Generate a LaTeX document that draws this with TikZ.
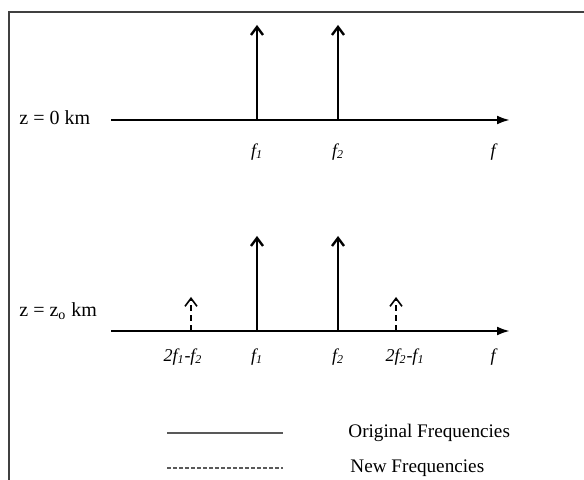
\documentclass[tikz,border=0pt]{standalone}
\usepackage{fontspec}
\setmainfont{Liberation Serif}
\usetikzlibrary{arrows.meta}
\tikzset{
  frame/.style={line width=1.3pt,black!75},
  % Assi di frequenza
  axis/.style={line width=1.2pt,-{Latex[length=6.5pt,width=4.5pt]}},
  % Righe spettrali
  line orig/.style={line width=1.2pt,-{Straight Barb[length=4pt,width=6pt]}},
  line new/.style={line width=0.8pt,densely dashed,-{Straight Barb[length=4pt,width=6pt]}},
  lbl/.style={font=\fontsize{10}{12}\selectfont,inner sep=1pt},
  leglbl/.style={font=\fontsize{9.6}{12}\selectfont,inner sep=1pt},
  flbl/.style={font=\fontsize{9}{11}\selectfont\itshape,inner sep=1pt},
  leg orig/.style={line width=1.1pt,black!65},
  leg new/.style={line width=1.1pt,black!65,dash pattern=on 2pt off 1pt}
}
\begin{document}
\begin{tikzpicture}[x=0.5pt,y=-0.5pt]
  \useasboundingbox (0,0) rectangle (584,480);
  \draw[frame] (9,480) -- (9,12) -- (584,12);
  % z = 0
  \coordinate (s0) at (111,120);
  \coordinate (e0) at (510,120);
  \draw[axis] (s0) -- (e0);
  \node[lbl,anchor=west] (z0) at (17,118) {z = 0 km};
  \coordinate (p1) at (257,120); \coordinate (t1) at (257,25);
  \coordinate (p2) at (338,120); \coordinate (t2) at (338,25);
  \draw[line orig] (p1) -- (t1);
  \draw[line orig] (p2) -- (t2);
  \node[flbl] (f1a) at (257,152) {f\textsubscript{1}};
  \node[flbl] (f2a) at (338,152) {f\textsubscript{2}};
  \node[flbl] (fa) at (493,152) {f};
  % z = z_o
  \coordinate (s1) at (111,331);
  \coordinate (e1) at (510,331);
  \draw[axis] (s1) -- (e1);
  \node[lbl,anchor=west] (z1) at (17,311) {z = z\textsubscript{o} km};
  \coordinate (q1) at (257,331); \coordinate (u1) at (257,236);
  \coordinate (q2) at (338,331); \coordinate (u2) at (338,236);
  \coordinate (q3) at (191,331); \coordinate (u3) at (191,297);
  \coordinate (q4) at (396,331); \coordinate (u4) at (396,297);
  \draw[line orig] (q1) -- (u1);
  \draw[line orig] (q2) -- (u2);
  \draw[line new] (q3) -- (u3);
  \draw[line new] (q4) -- (u4);
  \node[flbl] (g3) at (183,357) {2f\textsubscript{1}-f\textsubscript{2}};
  \node[flbl] (g1) at (257,357) {f\textsubscript{1}};
  \node[flbl] (g2) at (338,357) {f\textsubscript{2}};
  \node[flbl] (g4) at (405,357) {2f\textsubscript{2}-f\textsubscript{1}};
  \node[flbl] (gb) at (493,357) {f};
  % legenda
  \coordinate (l1a) at (167,433); \coordinate (l1b) at (283,433);
  \coordinate (l2a) at (167,468); \coordinate (l2b) at (283,468);
  \draw[leg orig] (l1a) -- (l1b);
  \draw[leg new] (l2a) -- (l2b);
  \node[leglbl,anchor=west] (txo) at (346,433) {Original Frequencies};
  \node[leglbl,anchor=west] (txn) at (348,468) {New Frequencies};
\end{tikzpicture}
\end{document}
